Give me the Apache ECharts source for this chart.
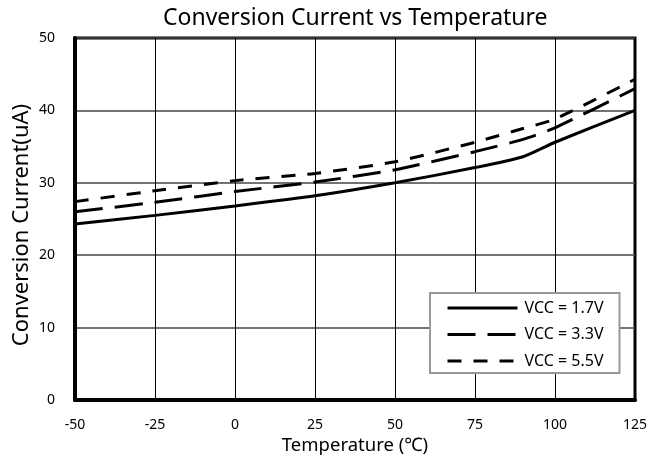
<!DOCTYPE html>
<html><head><meta charset="utf-8">
<script src="https://cdn.jsdelivr.net/npm/echarts@6/dist/echarts.min.js"></script>
<style>html,body{margin:0;padding:0;background:#fff}#c{width:651px;height:458px}</style>
</head><body><div id="c"></div>
<script>
const temps = [-50, -25, 0, 25, 50, 75, 90, 100, 125];
const vcc17 = [24.3, 25.5, 26.8, 28.2, 30.0, 32.1, 33.6, 35.6, 40.0];
const vcc33 = [26.0, 27.3, 28.8, 30.1, 31.8, 34.3, 36.0, 37.6, 43.0];
const vcc55 = [27.4, 28.9, 30.3, 31.3, 32.9, 35.6, 37.5, 38.8, 44.3];
const seriesNames = ['VCC = 1.7V', 'VCC = 3.3V', 'VCC = 5.5V'];
const FONT = 'Noto Sans';
const pair = arr => temps.map((t, i) => [t, arr[i]]);
const mk = (name, data, type) => ({
  name, type: 'line', data: pair(data), symbol: 'none', showSymbol: false, smooth: 0.2,
  lineStyle: { color: '#000', width: 3, type: type, cap: 'butt' },
  itemStyle: { color: '#000' }
});
const chart = echarts.init(document.getElementById('c'));
chart.setOption({
  animation: false,
  title: { text: 'Conversion Current vs Temperature', left: 158, top: 2,
    textStyle: { fontFamily: FONT, fontSize: 23, fontWeight: 'normal', color: '#000' } },
  grid: { left: 75, right: 16, top: 38, bottom: 58, show: true, borderColor: '#000', borderWidth: 3,
    outerBoundsMode: 'none', containLabel: false },
  xAxis: { type: 'value', min: -50, max: 125, interval: 25,
    name: 'Temperature (\u2103)', nameLocation: 'middle', nameGap: 36, nameMoveOverlap: false,
    nameTextStyle: { fontFamily: FONT, fontSize: 18.5, color: '#000' },
    axisLine: { onZero: false, lineStyle: { color: '#000', width: 4 } }, axisTick: { show: false },
    axisLabel: { fontFamily: FONT, fontSize: 14, color: '#000', margin: 18 },
    splitLine: { lineStyle: { color: '#000', width: 1 } } },
  yAxis: { type: 'value', min: 0, max: 50, interval: 10,
    name: 'Conversion Current(uA)', nameLocation: 'middle', nameGap: 42, nameMoveOverlap: false,
    nameTextStyle: { fontFamily: FONT, fontSize: 22, color: '#000', padding: [0, 12, 0, 0] },
    axisLine: { show: true, onZero: false, lineStyle: { color: '#000', width: 4 } }, axisTick: { show: false },
    axisLabel: { fontFamily: FONT, fontSize: 14, color: '#000', margin: 20 },
    splitLine: { lineStyle: { color: '#444', width: 1.5 } } },
  legend: { orient: 'vertical', left: 430, top: 293, itemWidth: 70, itemHeight: 14, itemGap: 10.5,
    padding: [7, 16, 4, 16], backgroundColor: '#fff', borderColor: '#999', borderWidth: 2,
    itemStyle: { opacity: 0 }, lineStyle: { width: 3 },
    textStyle: { fontFamily: FONT, fontSize: 16, color: '#000', padding: [0, 0, 0, 2] },
    data: seriesNames },
  series: [ mk(seriesNames[0], vcc17, 'solid'), mk(seriesNames[1], vcc33, [28, 12]), mk(seriesNames[2], vcc55, [14, 12]) ]
});
</script></body></html>
